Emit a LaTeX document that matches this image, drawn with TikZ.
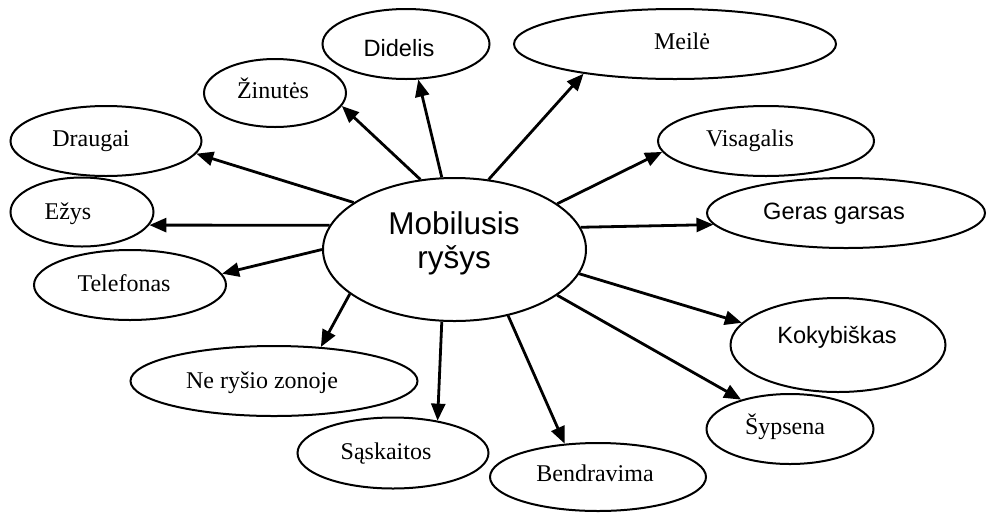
\documentclass[tikz,border=0pt]{standalone}
\usepackage{fontspec}
\setmainfont{Liberation Serif}
\setsansfont{Liberation Sans}
\usetikzlibrary{shapes.geometric,arrows.meta}

\tikzset{
  bubble/.style={draw, ellipse, line width=2pt, inner sep=0pt},
  serif/.style={anchor=base, inner sep=0pt, font=\rmfamily\fontsize{24}{28}\selectfont},
  sans/.style={anchor=base, inner sep=0pt, font=\sffamily\fontsize{23.6}{28}\selectfont},
  hub/.style={anchor=base, inner sep=0pt, font=\sffamily\fontsize{31.5}{36}\selectfont},
  link/.style={line width=2.8pt, -{Triangle[length=17pt,width=14pt]}}
}

\begin{document}
\begin{tikzpicture}[x=1pt, y=-1pt]
\useasboundingbox (0,0) rectangle (987,515);

% ellipses
\node[bubble, minimum width=263pt, minimum height=143pt] (hub)   at (454.5,249.5) {};
\node[bubble, minimum width=167pt, minimum height=70pt]  (didel) at (406,44) {};
\node[bubble, minimum width=322pt, minimum height=70pt]  (meile) at (675,44) {};
\node[bubble, minimum width=142pt, minimum height=68pt]  (zinut) at (275,93) {};
\node[bubble, minimum width=191pt, minimum height=70pt]  (draug) at (106,141) {};
\node[bubble, minimum width=143pt, minimum height=69pt]  (ezys)  at (82,212) {};
\node[bubble, minimum width=192pt, minimum height=70pt]  (telef) at (130,285) {};
\node[bubble, minimum width=287pt, minimum height=70pt]  (zona)  at (274,381) {};
\node[bubble, minimum width=191pt, minimum height=71pt]  (saskt) at (393,453) {};
\node[bubble, minimum width=216pt, minimum height=68pt]  (bendr) at (598,477) {};
\node[bubble, minimum width=167pt, minimum height=70pt]  (sypsn) at (790,429) {};
\node[bubble, minimum width=215pt, minimum height=94pt]  (kokyb) at (838,345) {};
\node[bubble, minimum width=278pt, minimum height=70pt]  (garsa) at (846,213) {};
\node[bubble, minimum width=216pt, minimum height=70pt]  (visag) at (766,141) {};

% labels
\node[hub]   (hubA)   at (454,234) {Mobilusis};
\node[hub]   (hubB)   at (454,268) {ryšys};
\node[sans]  (didelT) at (399,56)  {Didelis};
\node[serif] (meileT) at (682,49)  {Meilė};
\node[serif] (zinutT) at (273,98)  {Žinutės};
\node[serif] (draugT) at (91,146)  {Draugai};
\node[serif] (ezysT)  at (68,219)  {Ežys};
\node[serif] (telefT) at (124,291) {Telefonas};
\node[serif] (zonaT)  at (262,388) {Ne ryšio zonoje};
\node[serif] (sasktT) at (386,459) {Sąskaitos};
\node[serif] (bendrT) at (595,481) {Bendravima};
\node[serif] (sypsnT) at (785,434) {Šypsena};
\node[sans]  (kokybT) at (837,343) {Kokybiškas};
\node[sans]  (garsaT) at (834,219) {Geras garsas};
\node[serif] (visagT) at (750,146) {Visagalis};

% connectors
\draw[link] (hub.116.1) -- (zinut.349);
\draw[link] (hub.100.6) -- (didel.289.7);
\draw[link] (hub.64.5)  -- (meile.198.6);
\draw[link] (hub.24.7)  -- (visag.186.3);
\draw[link] (hub.10.2)  -- (garsa.185.3);
\draw[link] (hub.349.8) -- (kokyb.167.8);
\draw[link] (hub.336.2) -- (sypsn.149);
\draw[link] (hub.309.8) -- (bendr.135.8);
\draw[link] (hub.260.2) -- (saskt.36.3);
\draw[link] (hub.203.8) -- (zona.36.9);
\draw[link] (hub.180)   -- (telef.7.1);
\draw[link] (hub.169.5) -- (ezys.349.8);
\draw[link] (hub.155.7) -- (draug.352.9);
\end{tikzpicture}
\end{document}
